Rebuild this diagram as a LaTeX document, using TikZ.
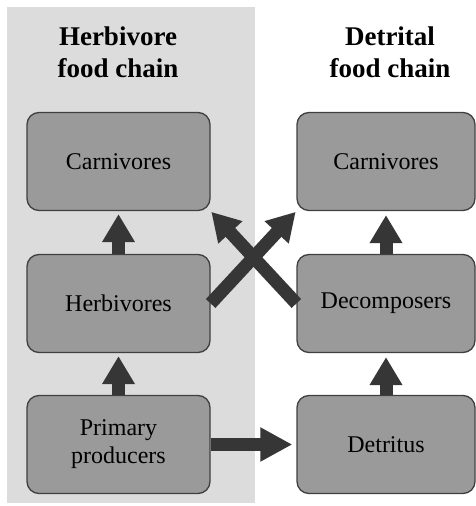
\documentclass[tikz,border=0pt]{standalone}
\usepackage{fontspec}
\setmainfont{Liberation Serif}
\usetikzlibrary{arrows.meta}
\definecolor{panelc}{HTML}{DCDCDC}
\definecolor{boxc}{HTML}{9A9A9A}
\definecolor{edgec}{HTML}{404040}
\definecolor{arrowc}{HTML}{363636}
\tikzset{
  level/.style={draw=edgec, fill=boxc, line width=1.3pt, rounded corners=12pt,
    minimum height=98pt, align=center, inner sep=0pt,
    font=\fontsize{24}{28}\selectfont},
  leftbox/.style={level, minimum width=183pt},
  rightbox/.style={level, minimum width=178pt},
  title/.style={anchor=north, inner sep=0pt, align=center,
    font=\fontsize{27}{32}\selectfont\bfseries},
  fat/.style={draw=arrowc, line width=13pt,
    -{Triangle[width=31pt,length=28pt]}},
}
\begin{document}
\begin{tikzpicture}[x=1pt,y=-1pt]
\useasboundingbox (0,0) rectangle (476,506);
\fill[panelc] (7,7) rectangle (255,503);
\node[title] (th) at (118,26.7) {Herbivore\\food chain};
\node[title] (td) at (390,26.7) {Detrital\\food chain};
\node[leftbox] (carnL) at (118.5,161.5) {Carnivores};
\node[leftbox] (herb) at (118.5,303.5) {Herbivores};
\node[leftbox] (prim) at (118.5,444.5) {Primary\\producers};
\node[rightbox] (carnR) at (386,161.5) {Carnivores};
\node[rightbox] (decomp) at (386,303.5) {Decomposers};
\node[rightbox] (detr) at (386,444.5) {Detritus};
\draw[fat, shorten >=3pt] (herb.north) -- (carnL.south);
\draw[fat, shorten >=3pt] (prim.north) -- (herb.south);
\draw[fat, shorten >=4pt] (decomp.north) -- (carnR.south);
\draw[fat, shorten >=4pt] (detr.north) -- (decomp.south);
\draw[fat, -{Triangle[width=32pt,length=32pt]}, shorten >=4pt] (prim.east) -- (detr.west);
\draw[fat, shorten >=1pt] (herb.east) -- (carnR.south west);
\draw[fat, shorten >=1pt] (decomp.west) -- (carnL.south east);
\end{tikzpicture}
\end{document}
